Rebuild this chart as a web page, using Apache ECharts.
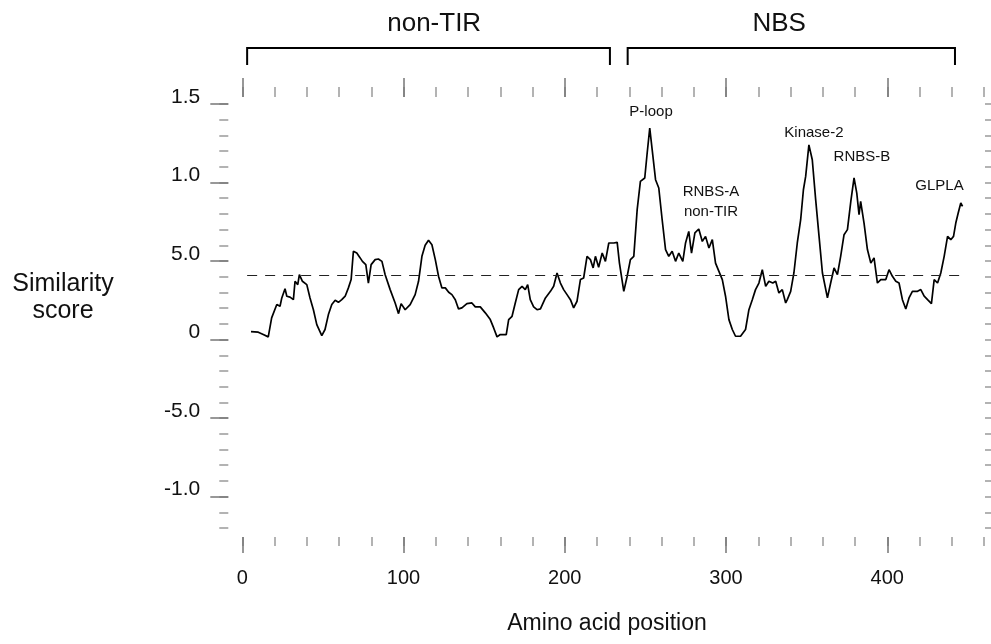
<!DOCTYPE html>
<html lang="en">

<head>
    <meta charset="UTF-8">
    <title>Similarity score</title>
    <script src="https://cdn.jsdelivr.net/npm/echarts@6/dist/echarts.min.js"></script>
    <style>
        body { margin: 0; background: #fff; }
    </style>
</head>

<body>
    <div id="main" style="width: 991px;height:644px;"></div>
    <script type="text/javascript">
        // amino acid position / similarity score
        var positions = [
            5.4, 9.9, 13, 16.1, 18.2, 21.4, 23.4, 24.5, 26.5, 27.6, 29.6, 31.7, 32.7, 34.4, 35.4, 37.3, 40, 42, 44.1, 46.2,
            49.3, 51.3, 53.4, 55.5, 57.6, 59.6, 61.7, 63.8, 65.8, 67.5, 68.9, 71, 73.1, 74.5, 76.6, 78.2, 79.9, 82.4, 84.4, 86.6,
            88.6, 91.7, 94.8, 96.9, 98.5, 101, 104.1, 107.2, 109.3, 111.4, 113.4, 115.5, 117.6, 119.7, 121.7, 123.8, 125.9, 128, 130, 132.1,
            134.1, 136.2, 139.3, 142.4, 144.5, 147.6, 150.7, 153.8, 155.9, 158, 160, 163.7, 165.2, 167.3, 169.3, 171.4, 173.5, 175.5, 177, 178.6,
            180.7, 182.8, 184.9, 188, 191.1, 193.1, 195.2, 197.3, 199.3, 201.4, 203.5, 205.5, 207.6, 209.7, 211.7, 213.8, 215.9, 217.6, 219, 221,
            223.2, 225.2, 227.3, 230.4, 232.5, 233.9, 236.6, 238.7, 240.7, 242.8, 244.9, 246.9, 249.6, 251.1, 252.7, 254.2, 256.3, 258.3, 260.4, 262.5,
            264.5, 266.6, 268.7, 270.7, 273.2, 274.9, 276.9, 278.6, 280.7, 283.1, 285.3, 287.3, 289.4, 291.5, 293.5, 295.6, 297.7, 299.7, 301.8, 303.9,
            305.9, 309, 312.1, 314.2, 316.3, 318.3, 320.4, 322.5, 324.6, 326.6, 329, 330.8, 332.8, 334.9, 337, 338, 340.1, 342.1, 344.2, 346.3,
            348, 349.4, 351.4, 353.5, 355.6, 357.7, 359.8, 362.9, 364.9, 367, 369.1, 371.1, 373.2, 375.3, 377.4, 379.4, 381.1, 382.5, 383.5, 385.6,
            387.7, 389.8, 391.8, 393.9, 396, 399.1, 401.1, 403.2, 405.3, 407.3, 409.4, 411.5, 413.5, 415.6, 418.8, 420.8, 422.9, 425, 427.4, 429.1,
            431.2, 433.2, 435.3, 437.4, 439.4, 441.1, 442.5, 444, 445.6, 446.7
        ];
        var scores = [
            0.051, 0.047, 0.032, 0.017, 0.138, 0.223, 0.212, 0.265, 0.324, 0.276, 0.27, 0.254, 0.371, 0.35, 0.413, 0.371, 0.35, 0.265, 0.19, 0.095,
            0.025, 0.064, 0.159, 0.223, 0.25, 0.237, 0.254, 0.276, 0.329, 0.382, 0.562, 0.551, 0.52, 0.498, 0.477, 0.36, 0.477, 0.509, 0.513, 0.498,
            0.413, 0.318, 0.233, 0.165, 0.229, 0.19, 0.223, 0.286, 0.371, 0.53, 0.6, 0.632, 0.604, 0.509, 0.403, 0.329, 0.329, 0.301, 0.286, 0.254,
            0.195, 0.202, 0.229, 0.233, 0.208, 0.208, 0.17, 0.127, 0.074, 0.017, 0.032, 0.032, 0.127, 0.148, 0.233, 0.318, 0.339, 0.318, 0.35, 0.254,
            0.208, 0.19, 0.195, 0.265, 0.307, 0.339, 0.424, 0.36, 0.318, 0.286, 0.254, 0.202, 0.244, 0.382, 0.392, 0.53, 0.509, 0.456, 0.53, 0.46,
            0.551, 0.498, 0.615, 0.615, 0.619, 0.487, 0.307, 0.403, 0.509, 0.53, 0.827, 1.007, 1.029, 1.188, 1.346, 1.209, 1.018, 0.965, 0.763, 0.573,
            0.53, 0.562, 0.498, 0.551, 0.498, 0.615, 0.689, 0.551, 0.679, 0.704, 0.625, 0.657, 0.583, 0.636, 0.487, 0.434, 0.382, 0.276, 0.127, 0.064,
            0.021, 0.021, 0.064, 0.19, 0.254, 0.318, 0.36, 0.445, 0.339, 0.371, 0.36, 0.371, 0.297, 0.318, 0.233, 0.254, 0.307, 0.424, 0.615, 0.763,
            0.954, 1.039, 1.24, 1.145, 0.891, 0.657, 0.424, 0.265, 0.36, 0.456, 0.413, 0.53, 0.668, 0.7, 0.88, 1.029, 0.933, 0.795, 0.88, 0.742,
            0.573, 0.487, 0.52, 0.36, 0.382, 0.382, 0.445, 0.403, 0.371, 0.36, 0.254, 0.195, 0.265, 0.307, 0.307, 0.318, 0.276, 0.254, 0.229, 0.382,
            0.36, 0.424, 0.53, 0.657, 0.636, 0.657, 0.742, 0.806, 0.87, 0.848
        ];

        // dashed reference level and its extent
        var threshold = 0.41;
        var thresholdRange = [3, 448];

        // y tick labels as printed in the figure
        var yMajor = [-1.0, -0.5, 0, 0.5, 1.0, 1.5];
        var yLabels = ['-1.0', '-5.0', '0', '5.0', '1.0', '1.5'];
        var xMajor = [0, 100, 200, 300, 400];

        // domain brackets above the plot
        var regionNames = ['non-TIR', 'NBS'];
        var regionStart = [3, 239];
        var regionEnd = [228, 442];
        var regionLabelX = [119, 333];

        // peak annotations
        var peakNames = ['P-loop', 'RNBS-A', 'non-TIR', 'Kinase-2', 'RNBS-B', 'GLPLA'];
        var peakX = [253.5, 290.7, 290.7, 354.5, 384.3, 432.4];
        var peakY = [1.449, 0.94, 0.813, 1.315, 1.163, 0.978];

        var font = 'Liberation Sans, Arial, sans-serif';
        var data = positions.map(function (x, i) { return [x, scores[i]]; });

        var myChart = echarts.init(document.getElementById('main'));

        var noLine = { show: false, onZero: false };
        var hidden = { show: false };
        function ticks(len, color, custom) {
            var t = { length: len, lineStyle: { color: color, width: 1.5 } };
            if (custom) t.customValues = custom;
            return t;
        }
        function xAx(pos, offset, tick, label) {
            return {
                type: 'value', position: pos, offset: offset, min: 0, max: 460, interval: 20,
                axisLine: noLine, splitLine: hidden, axisTick: tick, axisLabel: label || hidden
            };
        }
        function yAx(pos, offset, tick, label) {
            return {
                type: 'value', position: pos, offset: offset, min: -1.2, max: 1.5, interval: 0.1,
                axisLine: noLine, splitLine: hidden, axisTick: tick, axisLabel: label || hidden
            };
        }

        var option = {
            animation: false,
            grid: { left: 242.3, right: 7, top: 104, bottom: 116 },
            xAxis: [
                xAx('bottom', 9, ticks(9, '#9a9a9a')),
                xAx('bottom', 9, ticks(16, '#777', xMajor), {
                    customValues: xMajor, margin: 31, fontSize: 20, color: '#111', fontFamily: font
                }),
                xAx('top', 7, ticks(10, '#9a9a9a')),
                xAx('top', 7, ticks(19, '#777', xMajor))
            ],
            yAxis: [
                yAx('left', 14, ticks(9, '#9a9a9a')),
                yAx('left', 14, ticks(18, '#777', yMajor), {
                    customValues: yMajor, margin: 28, fontSize: 21, color: '#111', fontFamily: font,
                    verticalAlign: 'bottom', lineHeight: 14,
                    formatter: function (v) {
                        for (var i = 0; i < yMajor.length; i++) {
                            if (Math.abs(yMajor[i] - v) < 1e-6) return yLabels[i];
                        }
                        return '';
                    }
                }),
                yAx('right', 1, ticks(8, '#9a9a9a'))
            ],
            series: [
                {
                    type: 'line',
                    data: data,
                    showSymbol: false,
                    symbol: 'none',
                    lineStyle: { color: '#000', width: 1.7 },
                    markLine: {
                        silent: true,
                        symbol: ['none', 'none'],
                        label: { show: false },
                        lineStyle: { color: '#222', width: 1.2, type: [10, 8] },
                        data: [[{ coord: [thresholdRange[0], threshold] }, { coord: [thresholdRange[1], threshold] }]]
                    }
                }
            ]
        };

        myChart.setOption(option);

        // brackets and annotations positioned from data coordinates
        var graphics = [];
        function px(x, y) { return myChart.convertToPixel({ xAxisIndex: 0, yAxisIndex: 0 }, [x, y]); }
        for (var i = 0; i < regionNames.length; i++) {
            var a = px(regionStart[i], 0)[0];
            var b = px(regionEnd[i], 0)[0];
            graphics.push({
                type: 'polyline',
                shape: { points: [[a, 65], [a, 48], [b, 48], [b, 65]] },
                style: { stroke: '#000', lineWidth: 2, fill: null }
            });
            graphics.push({
                type: 'text', x: px(regionLabelX[i], 0)[0], y: 24,
                style: { text: regionNames[i], font: '26px ' + font, fill: '#111', align: 'center', verticalAlign: 'middle' }
            });
        }
        for (var j = 0; j < peakNames.length; j++) {
            var p = px(peakX[j], peakY[j]);
            graphics.push({
                type: 'text', x: p[0], y: p[1],
                style: { text: peakNames[j], font: '15px ' + font, fill: '#111', align: 'center', verticalAlign: 'middle' }
            });
        }
        // axis titles
        graphics.push({
            type: 'text', x: 63, y: 298,
            style: { text: 'Similarity\nscore', font: '25px ' + font, lineHeight: 27, fill: '#111', align: 'center', verticalAlign: 'middle' }
        });
        graphics.push({
            type: 'text', x: 607, y: 624,
            style: { text: 'Amino acid position', font: '23px ' + font, fill: '#111', align: 'center', verticalAlign: 'middle' }
        });
        myChart.setOption({ graphic: graphics });
    </script>
</body>

</html>
